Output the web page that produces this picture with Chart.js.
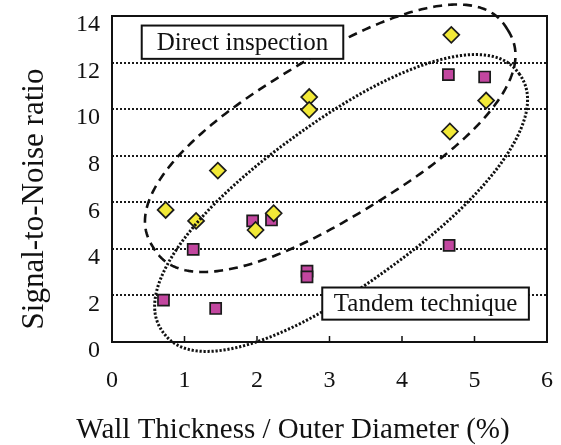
<!DOCTYPE html>
<html>
<head>
<meta charset="utf-8">
<script src="https://cdn.jsdelivr.net/npm/chart.js@4/dist/chart.umd.min.js"></script>
<style>
  html, body { margin: 0; padding: 0; background: #fff; }
  #wrap { width: 561px; height: 445px; }
</style>
</head>
<body>
<div id="wrap"><canvas id="c"></canvas></div>
<script>
// Wall thickness / outer diameter (%) and signal-to-noise ratio per sample
const directX = [0.74, 1.16, 1.46, 1.98, 2.23, 2.72, 2.72, 4.68, 4.66, 5.16];
const directY = [5.67, 5.20, 7.36, 4.81, 5.53, 10.52, 9.97, 13.19, 9.04, 10.37];

const tandemX = [0.71, 1.12, 1.43, 1.94, 2.20, 2.69, 2.69, 4.64, 5.14, 4.65];
const tandemY = [1.80, 3.98, 1.44, 5.20, 5.24, 3.04, 2.80, 11.48, 11.38, 4.15];

const xTicks = [0, 1, 2, 3, 4, 5, 6];
const yTicks = [0, 2, 4, 6, 8, 10, 12, 14];

const xTitle = 'Wall Thickness / Outer Diameter (%)';
const yTitle = 'Signal-to-Noise ratio';
const directLabel = 'Direct inspection';
const tandemLabel = 'Tandem technique';

const SERIF = '"Liberation Serif", "DejaVu Serif", serif';

const toPoints = (xs, ys) => xs.map((v, i) => ({ x: v, y: ys[i] }));

// Group outlines (rounded ovals): centre in data units, semi-axes and tilt in pixels
const groupOutlines = [
  { cx: 3.01, cy: 8.75, a: 208, b: 79, n: 2.35, angle: -31.5, dash: [9, 6], width: 2.6 },
  { cx: 3.16, cy: 5.97, a: 220, b: 81, n: 2.2, angle: -36, dash: [2.2, 1.8], width: 3 }
];

// Caption boxes: corners in data units
const captions = [
  { text: directLabel, x0: 0.41, x1: 3.19, y0: 13.59, y1: 12.16 },
  { text: tandemLabel, x0: 2.90, x1: 5.75, y0: 2.34, y1: 0.96 }
];

function ovalPath(ctx, a, b, n) {
  const steps = 360;
  const e = 2 / n;
  ctx.beginPath();
  for (let i = 0; i <= steps; i++) {
    const t = (i / steps) * Math.PI * 2;
    const c = Math.cos(t), s = Math.sin(t);
    const px = a * Math.sign(c) * Math.pow(Math.abs(c), e);
    const py = b * Math.sign(s) * Math.pow(Math.abs(s), e);
    if (i === 0) ctx.moveTo(px, py); else ctx.lineTo(px, py);
  }
  ctx.closePath();
}

const overlay = {
  id: 'overlay',
  afterDatasetsDraw(chart) {
    const { ctx, chartArea: area, scales: { x, y } } = chart;
    ctx.save();

    // dashed / dotted group outlines
    groupOutlines.forEach(g => {
      ctx.save();
      ctx.translate(x.getPixelForValue(g.cx), y.getPixelForValue(g.cy));
      ctx.rotate(g.angle * Math.PI / 180);
      ovalPath(ctx, g.a, g.b, g.n);
      ctx.setLineDash(g.dash);
      ctx.lineWidth = g.width;
      ctx.lineJoin = 'round';
      ctx.strokeStyle = '#111';
      ctx.stroke();
      ctx.restore();
    });

    // plot frame
    ctx.setLineDash([]);
    ctx.strokeStyle = '#111';
    ctx.lineWidth = 2;
    ctx.strokeRect(area.left, area.top, area.right - area.left, area.bottom - area.top);

    // inward tick marks on the x axis
    ctx.lineWidth = 1.5;
    ctx.beginPath();
    xTicks.slice(1, -1).forEach(v => {
      const px = x.getPixelForValue(v);
      ctx.moveTo(px, area.bottom);
      ctx.lineTo(px, area.bottom - 6);
    });
    ctx.stroke();

    // caption boxes
    captions.forEach(c => {
      const l = x.getPixelForValue(c.x0), r = x.getPixelForValue(c.x1);
      const t = y.getPixelForValue(c.y0), b = y.getPixelForValue(c.y1);
      ctx.fillStyle = '#fff';
      ctx.fillRect(l, t, r - l, b - t);
      ctx.lineWidth = 2;
      ctx.strokeStyle = '#111';
      ctx.strokeRect(l, t, r - l, b - t);
      ctx.fillStyle = '#111';
      ctx.font = '25px ' + SERIF;
      ctx.textAlign = 'center';
      ctx.textBaseline = 'middle';
      ctx.fillText(c.text, (l + r) / 2, (t + b) / 2 + 1);
    });

    // axis titles
    ctx.fillStyle = '#111';
    ctx.textAlign = 'center';
    ctx.textBaseline = 'alphabetic';
    ctx.font = '29px ' + SERIF;
    ctx.fillText(xTitle, 293, 438);
    ctx.save();
    ctx.font = '31px ' + SERIF;
    ctx.translate(43, 199);
    ctx.rotate(-Math.PI / 2);
    ctx.fillText(yTitle, 0, 0);
    ctx.restore();

    ctx.restore();
  }
};

new Chart(document.getElementById('c'), {
  type: 'scatter',
  data: {
    datasets: [
      {
        label: directLabel,
        data: toPoints(directX, directY),
        pointStyle: 'rectRot',
        pointRadius: 8,
        pointBackgroundColor: '#f2e937',
        pointBorderColor: '#1b1b1b',
        pointBorderWidth: 1.7
      },
      {
        label: tandemLabel,
        data: toPoints(tandemX, tandemY),
        pointStyle: 'rect',
        pointRadius: 7.8,
        pointBackgroundColor: '#c2469f',
        pointBorderColor: '#1b1b1b',
        pointBorderWidth: 1.7
      }
    ]
  },
  options: {
    responsive: true,
    maintainAspectRatio: false,
    animation: false,
    events: [],
    layout: { padding: { top: 16, right: 14, left: 0, bottom: 0 } },
    plugins: { legend: { display: false }, tooltip: { enabled: false } },
    scales: {
      x: {
        type: 'linear',
        min: xTicks[0],
        max: xTicks[xTicks.length - 1],
        afterBuildTicks: s => { s.ticks = xTicks.map(v => ({ value: v })); },
        afterFit: s => { s.height = 103; s.paddingLeft = 0; s.paddingRight = 0; },
        grid: { display: false },
        border: { display: false },
        ticks: { color: '#111', font: { family: SERIF, size: 24 }, padding: 16, maxRotation: 0 }
      },
      y: {
        type: 'linear',
        min: yTicks[0],
        max: yTicks[yTicks.length - 1],
        afterBuildTicks: s => { s.ticks = yTicks.map(v => ({ value: v })); },
        afterFit: s => { s.width = 112; s.paddingTop = 0; s.paddingBottom = 0; },
        grid: {
          drawTicks: false,
          lineWidth: 2,
          color: c => (c.tick.value === yTicks[0] || c.tick.value === yTicks[yTicks.length - 1]) ? 'rgba(0,0,0,0)' : '#1a1a1a'
        },
        border: { display: false, dash: [2, 2] },
        ticks: { color: '#111', font: { family: SERIF, size: 24 }, padding: 12, labelOffset: 9 }
      }
    }
  },
  plugins: [overlay]
});
</script>
</body>
</html>
